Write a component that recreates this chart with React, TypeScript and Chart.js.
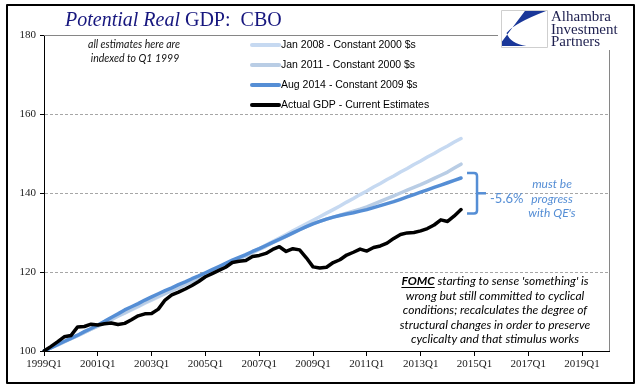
import { useEffect, useRef } from "react";
import { Chart, registerables } from "chart.js";

Chart.register(...registerables);

// ---- categories (quarters 1999Q1 .. 2020Q1) ----
const FIRST_YEAR = 1999;
const LAST_YEAR = 2020;
const CATEGORIES: string[] = [];
for (let y = FIRST_YEAR; y <= LAST_YEAR; y++) {
  for (let q = 1; q <= 4; q++) {
    if (y === LAST_YEAR && q > 1) break;
    CATEGORIES.push(`${y}Q${q}`);
  }
}
const LABEL_EVERY = 8;
const Y_MIN = 100;
const Y_MAX = 180;
const Y_STEP = 20;

// ---- series (indexed to 1999Q1 = 100), 1999Q1 .. 2014Q3 ----
const SERIES_NAMES = [
  "Jan 2008 - Constant 2000 $s",
  "Jan 2011 - Constant 2000 $s",
  "Aug 2014 - Constant 2009 $s",
  "Actual GDP - Current Estimates",
];

const JAN_2008 = [
  100.0, 100.8, 101.6, 102.4, 103.1, 103.9, 104.7, 105.5, 106.3, 107.1,
  107.9, 108.8, 109.6, 110.4, 111.2, 112.1, 112.9, 113.7, 114.5, 115.3,
  116.0, 116.8, 117.6, 118.4, 119.2, 120.0, 120.9, 121.7, 122.5, 123.4,
  124.2, 125.1, 125.9, 126.8, 127.7, 128.6, 129.5, 130.4, 131.3, 132.2,
  133.1, 134.0, 134.9, 135.8, 136.7, 137.7, 138.6, 139.6, 140.5, 141.5,
  142.4, 143.4, 144.3, 145.3, 146.2, 147.2, 148.1, 149.1, 150.0, 151.0,
  151.9, 152.9, 153.8,
];

const JAN_2011 = [
  100.0, 100.8, 101.5, 102.3, 103.1, 103.9, 104.7, 105.5, 106.3, 107.2,
  108.0, 108.9, 109.7, 110.6, 111.4, 112.3, 113.1, 113.9, 114.6, 115.4,
  116.1, 116.9, 117.7, 118.4, 119.2, 120.0, 120.8, 121.6, 122.4, 123.2,
  124.1, 124.9, 125.7, 126.5, 127.4, 128.2, 129.0, 129.8, 130.7, 131.5,
  132.3, 132.8, 133.4, 133.9, 134.4, 134.9, 135.4, 135.9, 136.5, 137.2,
  137.9, 138.6, 139.3, 140.0, 140.7, 141.4, 142.1, 142.9, 143.7, 144.5,
  145.3, 146.3, 147.3,
];

const AUG_2014 = [
  100.0, 100.8, 101.6, 102.4, 103.2, 104.0, 104.9, 105.7, 106.6, 107.5,
  108.5, 109.4, 110.4, 111.2, 112.0, 112.9, 113.7, 114.5, 115.3, 116.0,
  116.8, 117.5, 118.3, 119.0, 119.8, 120.6, 121.4, 122.2, 123.0, 123.7,
  124.4, 125.2, 125.9, 126.7, 127.5, 128.3, 129.1, 129.9, 130.7, 131.5,
  132.2, 132.8, 133.4, 133.9, 134.3, 134.7, 135.0, 135.4, 135.8, 136.3,
  136.8, 137.3, 137.8, 138.4, 139.0, 139.6, 140.2, 140.8, 141.4, 142.0,
  142.6, 143.2, 143.8,
];

const ACTUAL_GDP = [
  100.0, 101.1, 102.3, 103.6, 103.9, 106.1, 106.2, 106.8, 106.6, 106.9,
  107.1, 106.7, 107.0, 107.9, 108.9, 109.4, 109.5, 110.6, 112.9, 114.2,
  114.9, 115.7, 116.6, 117.6, 118.8, 119.6, 120.4, 121.2, 122.4, 122.7,
  122.9, 123.9, 124.2, 124.7, 125.7, 126.4, 125.2, 125.9, 125.6, 123.6,
  121.3, 121.0, 121.2, 122.4, 123.1, 124.3, 125.0, 125.8, 125.3, 126.2,
  126.6, 127.3, 128.5, 129.5, 129.9, 130.0, 130.4, 131.0, 131.9, 133.2,
  132.8, 134.2, 135.8,
];

const SERIES_COLORS = ["#c6d9f1", "#b9cde5", "#558ed5", "#000000"];
const SERIES_DATA = [JAN_2008, JAN_2011, AUG_2014, ACTUAL_GDP];

const TITLE_ITALIC = "Potential Real";
const TITLE_REST = " GDP:  CBO";
const NOTE_LINES = ["all estimates here are", "indexed to Q1 1999"];
const GAP_LABEL = "-5.6%";
const GAP_NOTE = ["must be", "progress", "with QE's"];
const FOMC_BOLD = "FOMC";
const FOMC_LINES = [
  " starting to sense 'something' is",
  "wrong but still committed to cyclical",
  "conditions; recalculates the degree of",
  "structural changes in order to preserve",
  "cyclicalty and that stimulus works",
];
const LOGO_LINES = ["Alhambra", "Investment", "Partners"];

const SERIF = "'Liberation Serif', 'DejaVu Serif', serif";
const SANS = "'Liberation Sans', Arial, sans-serif";
const ANNO = "Lato, 'Open Sans', sans-serif";

const decor = {
  id: "decor",
  beforeDatasetsDraw(chart: any) {
    const { ctx, chartArea } = chart;
    const y = chart.scales.y;
    ctx.save();
    // dashed gridlines
    ctx.strokeStyle = "#a6a6a6";
    ctx.lineWidth = 1;
    ctx.setLineDash([3, 2]);
    for (let v = Y_MIN + Y_STEP; v < Y_MAX; v += Y_STEP) {
      const py = Math.round(y.getPixelForValue(v)) + 0.5;
      ctx.beginPath();
      ctx.moveTo(chartArea.left + 1, py);
      ctx.lineTo(chartArea.right, py);
      ctx.stroke();
    }
    ctx.setLineDash([]);
    // plot-area top and right border
    ctx.strokeStyle = "#868686";
    const top = Math.round(y.getPixelForValue(Y_MAX)) + 0.5;
    ctx.beginPath();
    ctx.moveTo(chartArea.left, top);
    ctx.lineTo(498, top);
    ctx.stroke();
    const rx = Math.round(chartArea.right) + 0.5;
    ctx.beginPath();
    ctx.moveTo(rx, 50);
    ctx.lineTo(rx, chartArea.bottom);
    ctx.stroke();
    ctx.restore();
  },
  afterDraw(chart: any) {
    const { ctx } = chart;
    const xs = chart.scales.x;
    const ys = chart.scales.y;
    ctx.save();

    // title
    ctx.fillStyle = "#16167e";
    ctx.textBaseline = "alphabetic";
    ctx.textAlign = "left";
    ctx.font = `italic 20px ${SERIF}`;
    ctx.fillText(TITLE_ITALIC, 65, 26);
    const w1 = ctx.measureText(TITLE_ITALIC).width;
    ctx.font = `20px ${SERIF}`;
    ctx.fillText(TITLE_REST, 65 + w1, 26);

    // note
    ctx.fillStyle = "#111";
    ctx.textAlign = "center";
    ctx.font = `italic 10.5px ${ANNO}`;
    ctx.fillText(NOTE_LINES[0], 134, 48);
    ctx.fillText(NOTE_LINES[1], 135, 62);

    // legend
    ctx.textAlign = "left";
    ctx.textBaseline = "middle";
    ctx.font = `10.5px ${SANS}`;
    SERIES_NAMES.forEach((name, i) => {
      const ry = 45 + i * 20;
      ctx.strokeStyle = SERIES_COLORS[i];
      ctx.lineWidth = 4;
      ctx.lineCap = "round";
      ctx.beginPath();
      ctx.moveTo(252, ry);
      ctx.lineTo(279, ry);
      ctx.stroke();
      ctx.fillStyle = "#000";
      ctx.fillText(name, 281, ry + 0.5);
    });

    // bracket
    const last = AUG_2014.length - 1;
    const xl = xs.getPixelForValue(last);
    const yTop = ys.getPixelForValue(AUG_2014[last]) - 5;
    const yBot = ys.getPixelForValue(ACTUAL_GDP[last]) + 4;
    const yMid = (yTop + yBot) / 2;
    const bx = xl + 16;
    ctx.strokeStyle = "#558ed5";
    ctx.lineWidth = 2.5;
    ctx.lineCap = "butt";
    ctx.lineJoin = "round";
    ctx.beginPath();
    ctx.moveTo(xl + 6, yTop);
    ctx.lineTo(bx - 3, yTop);
    ctx.quadraticCurveTo(bx, yTop, bx, yTop + 3);
    ctx.lineTo(bx, yBot - 3);
    ctx.quadraticCurveTo(bx, yBot, bx - 3, yBot);
    ctx.lineTo(xl + 6, yBot);
    ctx.stroke();
    ctx.beginPath();
    ctx.moveTo(bx, yMid);
    ctx.lineTo(bx + 9, yMid);
    ctx.stroke();

    ctx.fillStyle = "#558ed5";
    ctx.textBaseline = "alphabetic";
    ctx.textAlign = "left";
    ctx.font = `13px ${ANNO}`;
    ctx.fillText(GAP_LABEL, bx + 13, yMid + 10);
    ctx.textAlign = "center";
    ctx.font = `italic 12px ${ANNO}`;
    GAP_NOTE.forEach((t, i) => ctx.fillText(t, 552, 188 + i * 14.5));

    // FOMC note
    ctx.fillStyle = "#000";
    ctx.font = `italic bold 12px ${ANNO}`;
    const bw = ctx.measureText(FOMC_BOLD).width;
    ctx.font = `italic 12px ${ANNO}`;
    const rw = ctx.measureText(FOMC_LINES[0]).width;
    const cx = 495;
    const startX = cx - (bw + rw) / 2;
    ctx.textAlign = "left";
    ctx.font = `italic bold 12px ${ANNO}`;
    ctx.fillText(FOMC_BOLD, startX, 285);
    ctx.fillRect(startX, 287, bw, 1);
    ctx.font = `italic 12px ${ANNO}`;
    ctx.fillText(FOMC_LINES[0], startX + bw, 285);
    ctx.textAlign = "center";
    for (let i = 1; i < FOMC_LINES.length; i++) {
      ctx.fillText(FOMC_LINES[i], cx, 285 + i * 14.5);
    }

    // logo
    const L = 501, T = 10, W = 46, H = 37;
    ctx.fillStyle = "#fff";
    ctx.fillRect(L, T, W, H);
    ctx.strokeStyle = "#cfcfcf";
    ctx.lineWidth = 1;
    ctx.strokeRect(L + 0.5, T + 0.5, W, H);
    ctx.fillStyle = "#1a3799";
    ctx.beginPath();
    ctx.moveTo(L + W * 0.52, T + 1);
    ctx.lineTo(L + W - 1, T + 1);
    ctx.quadraticCurveTo(L + W * 0.3, T + H * 0.35, L + W * 0.12, T + H * 0.62);
    ctx.quadraticCurveTo(L + W * 0.2, T + H * 0.9, L + W * 0.55, T + H - 1);
    ctx.lineTo(L + 1, T + H - 1);
    ctx.lineTo(L + 1, T + H * 0.85);
    ctx.closePath();
    ctx.fill();
    ctx.fillStyle = "#1d1f4f";
    ctx.textAlign = "left";
    ctx.font = `15px ${SERIF}`;
    LOGO_LINES.forEach((t, i) => ctx.fillText(t, 551, 21 + i * 12.5));

    // outer frame
    ctx.strokeStyle = "#000";
    ctx.lineWidth = 2;
    ctx.strokeRect(7, 5, 627, 378);
    ctx.restore();
  },
};

export default function App() {
  const ref = useRef<HTMLCanvasElement>(null);
  useEffect(() => {
    const canvas = ref.current!;
    const chart = new Chart(canvas, {
      type: "line",
      data: {
        labels: CATEGORIES,
        datasets: SERIES_NAMES.map((name, i) => ({
          label: name,
          data: SERIES_DATA[i],
          borderColor: SERIES_COLORS[i],
          backgroundColor: SERIES_COLORS[i],
          borderWidth: 3.5,
          pointRadius: 0,
          tension: 0,
          fill: false,
          order: SERIES_NAMES.length - i,
          borderJoinStyle: "round",
          borderCapStyle: "round",
        })),
      },
      options: {
        responsive: false,
        animation: false,
        devicePixelRatio: 1,
        layout: { padding: { left: 0, top: 35, right: 32, bottom: 0 } },
        plugins: {
          legend: { display: false },
          tooltip: { enabled: false },
          title: { display: false },
        },
        scales: {
          x: {
            type: "category",
            offset: false,
            grid: { drawOnChartArea: false, drawTicks: true, tickLength: 5, color: "#000" },
            border: { color: "#000", width: 1 },
            ticks: {
              autoSkip: false,
              maxRotation: 0,
              minRotation: 0,
              padding: 2,
              color: "#1a1a1a",
              font: { family: SERIF, size: 11 },
              callback: (_v: any, i: number) =>
                i % LABEL_EVERY === 0 && i <= 80 ? CATEGORIES[i] : null,
            },
            afterFit: (s: any) => {
              s.height = 41;
            },
          },
          y: {
            min: Y_MIN,
            max: Y_MAX,
            grid: { drawOnChartArea: false, drawTicks: true, tickLength: 4, color: "#000" },
            border: { color: "#000", width: 1 },
            ticks: {
              stepSize: Y_STEP,
              padding: 4,
              color: "#1a1a1a",
              font: { family: SERIF, size: 11 },
            },
            afterFit: (s: any) => {
              s.width = 44;
            },
          },
        },
      } as any,
      plugins: [decor],
    });
    return () => chart.destroy();
  }, []);
  return (
    <div style={{ position: "fixed", left: 0, top: 0, width: 641, height: 392, background: "#fff" }}>
      <canvas ref={ref} width={641} height={392} style={{ display: "block" }} />
    </div>
  );
}
